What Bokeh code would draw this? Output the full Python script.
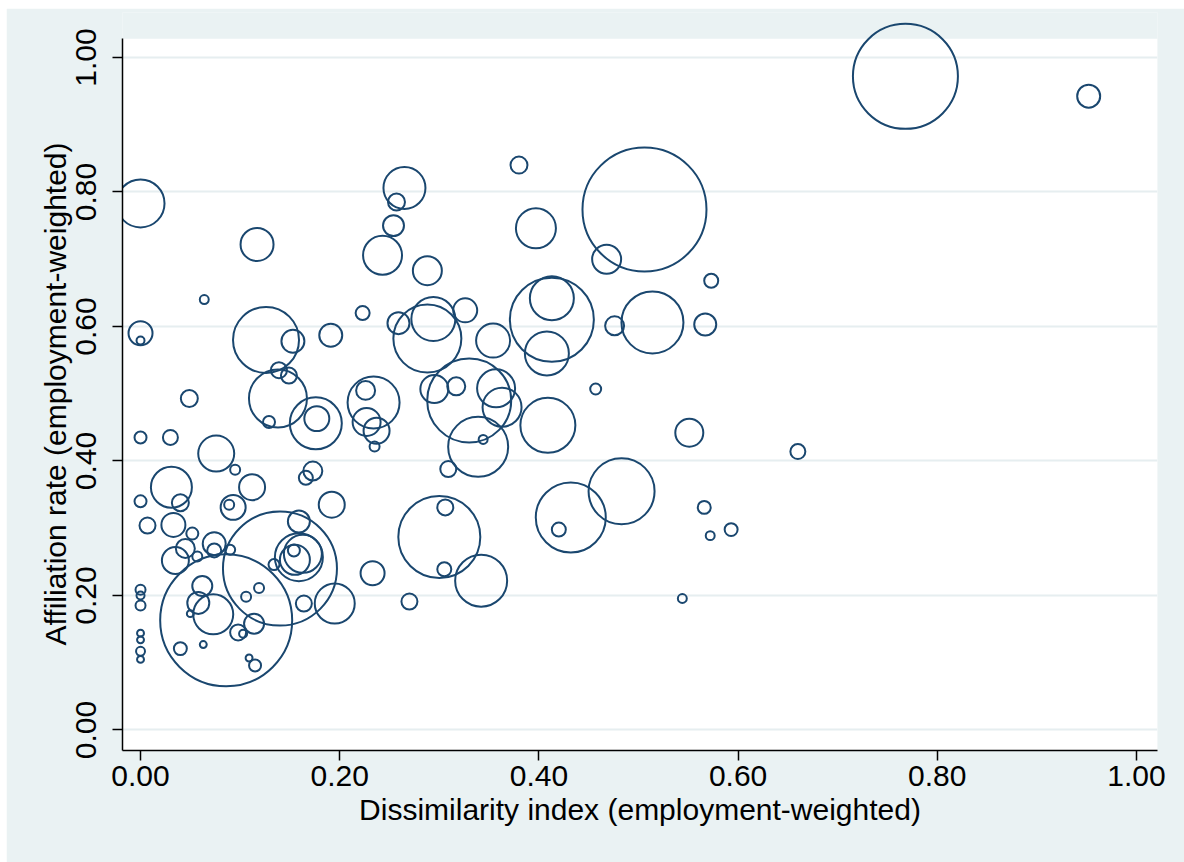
import math
from bokeh.plotting import figure
from bokeh.models import (Range1d, FixedTicker, NumeralTickFormatter, BoxAnnotation,
                          ColumnDataSource, Title)
from bokeh.embed import file_html
from bokeh.resources import INLINE

# Dissimilarity index (employment-weighted)
dissim = [0.000, 0.117, 0.064, 0.000, 0.000, 0.126, 0.153, 0.191, 0.223, 0.259,
          0.139, 0.149, 0.138, 0.129, 0.049, 0.176, 0.177, 0.234, 0.226, 0.227,
          0.237, 0.000, 0.030, 0.076, 0.095, 0.031, 0.040, 0.000, 0.112, 0.093,
          0.089, 0.007, 0.033, 0.052, 0.074, 0.074, 0.045, 0.057, 0.035, 0.090,
          0.140, 0.159, 0.159, 0.163, 0.155, 0.154, 0.134, 0.192, 0.233, 0.195,
          0.164, 0.086, 0.073, 0.062, 0.058, 0.050, 0.106, 0.119, 0.114, 0.098,
          0.103, 0.040, 0.063, 0.109, 0.115, 0.000, 0.000, 0.000, 0.000, 0.000,
          0.000, 0.000, 0.265, 0.257, 0.254, 0.243, 0.288, 0.380, 0.397, 0.294,
          0.288, 0.326, 0.354, 0.413, 0.413, 0.408, 0.295, 0.317, 0.330, 0.357,
          0.363, 0.339, 0.344, 0.409, 0.457, 0.309, 0.300, 0.306, 0.305, 0.342,
          0.432, 0.420, 0.483, 0.270, 0.173, 0.166, 0.768, 0.952, 0.506, 0.468,
          0.573, 0.514, 0.476, 0.567, 0.551, 0.660, 0.566, 0.572, 0.593, 0.544,
          0.235]

# Affiliation rate (employment-weighted)
affil = [0.783, 0.722, 0.640, 0.590, 0.579, 0.580, 0.578, 0.587, 0.620, 0.605,
         0.535, 0.527, 0.493, 0.458, 0.493, 0.456, 0.463, 0.487, 0.505, 0.458,
         0.445, 0.435, 0.435, 0.411, 0.387, 0.361, 0.338, 0.340, 0.361, 0.331,
         0.335, 0.304, 0.305, 0.292, 0.277, 0.267, 0.270, 0.258, 0.252, 0.268,
         0.240, 0.310, 0.257, 0.262, 0.253, 0.267, 0.246, 0.335, 0.233, 0.188,
         0.188, 0.163, 0.172, 0.214, 0.189, 0.173, 0.198, 0.211, 0.158, 0.145,
         0.143, 0.121, 0.127, 0.107, 0.096, 0.2085, 0.200, 0.185, 0.144, 0.134,
         0.117, 0.105, 0.806, 0.785, 0.750, 0.706, 0.683, 0.840, 0.746, 0.611,
         0.582, 0.624, 0.579, 0.610, 0.642, 0.560, 0.507, 0.511, 0.490, 0.508,
         0.480, 0.421, 0.432, 0.453, 0.507, 0.388, 0.287, 0.331, 0.239, 0.222,
         0.316, 0.298, 0.355, 0.191, 0.385, 0.375, 0.972, 0.9425, 0.774, 0.700,
         0.668, 0.606, 0.601, 0.603, 0.442, 0.414, 0.331, 0.289, 0.298, 0.1955,
         0.4215]

# Employment weight of each group (bubble area is proportional to it)
weight = [576, 272, 20, 144, 16, 1089, 132, 132, 49, 121,
          64, 64, 841, 36, 72, 676, 156, 676, 90, 196,
          169, 36, 56, 324, 25, 420, 72, 36, 169, 156,
          25, 64, 144, 36, 132, 49, 90, 25, 182, 25,
          3249, 121, 576, 361, 225, 36, 30, 169, 144, 400,
          64, 4356, 400, 100, 121, 12, 25, 25, 100, 64,
          16, 42, 12, 12, 36, 25, 16, 25, 12, 12,
          20, 12, 441, 72, 110, 380, 210, 72, 400, 484,
          1156, 144, 289, 1764, 484, 484, 196, 81, 1764, 361,
          380, 900, 20, 756, 30, 64, 1681, 64, 49, 676,
          1225, 49, 1089, 64, 90, 49, 2756, 132, 3844, 210,
          49, 961, 90, 121, 196, 56, 42, 20, 42, 20,
          25]

X_TICKS = [0.0, 0.2, 0.4, 0.6, 0.8, 1.0]
Y_TICKS = [0.0, 0.2, 0.4, 0.6, 0.8, 1.0]
X_TITLE = "Dissimilarity index (employment-weighted)"
Y_TITLE = "Affiliation rate (employment-weighted)"

NAVY = "#1A476F"
BG = "#EAF2F3"
FONT = "Liberation Sans"
FS = "30px"

# plot-region limits (white panel) and extended frame for unclipped bubbles
X0, X1 = -0.0181, 1.0211
Y0, Y1 = -0.0305, 1.028
Y_FRAME_TOP = 1.0669

sizes = [2 * math.sqrt(w) for w in weight]
src = ColumnDataSource(dict(x=dissim, y=affil, s=sizes))

p = figure(width=1178, height=854, output_backend="svg", toolbar_location=None,
           x_range=Range1d(X0, X1), y_range=Range1d(Y0, Y_FRAME_TOP),
           min_border_left=116, min_border_right=27, min_border_top=4,
           min_border_bottom=112)
p.margin = (8, 0, 0, 6)
p.background_fill_color = BG
p.border_fill_color = BG
p.outline_line_color = None

panel = BoxAnnotation(left=X0, right=X1, bottom=Y0, top=Y1, fill_color="white",
                      fill_alpha=1.0, line_color=None, level="image")
p.add_layout(panel)

p.scatter("x", "y", size="s", source=src, marker="circle", fill_color=None,
          line_color=NAVY, line_width=2)

p.xgrid.visible = False
p.ygrid.ticker = FixedTicker(ticks=Y_TICKS)
p.ygrid.grid_line_color = "#E6EEF0"
p.ygrid.grid_line_width = 2

for ax in (p.xaxis[0], p.yaxis[0]):
    ax.axis_line_color = "black"
    ax.axis_line_width = 1.5
    ax.major_tick_line_color = "black"
    ax.major_tick_line_width = 1.5
    ax.major_tick_out = 10
    ax.major_tick_in = 0
    ax.minor_tick_line_color = None
    ax.formatter = NumeralTickFormatter(format="0.00")
    ax.major_label_text_font = FONT
    ax.major_label_text_font_size = FS
    ax.major_label_text_color = "black"
    ax.axis_label_text_font = FONT
    ax.axis_label_text_font_size = FS
    ax.axis_label_text_font_style = "normal"
    ax.axis_label_text_color = "black"

p.xaxis[0].ticker = FixedTicker(ticks=X_TICKS)
p.yaxis[0].ticker = FixedTicker(ticks=Y_TICKS)
p.xaxis[0].axis_label = X_TITLE
p.yaxis[0].bounds = (Y0, Y1)
p.yaxis[0].major_label_orientation = "vertical"
p.xaxis[0].major_label_standoff = 5
p.xaxis[0].axis_label_standoff = 4
p.yaxis[0].major_label_standoff = 16

# y-axis title, placed along the white plot region (not the extended frame)
ytitle = Title(text=Y_TITLE, align="left", offset=105, standoff=4,
               text_font=FONT, text_font_size=FS, text_font_style="normal",
               text_color="black")
p.add_layout(ytitle, "left")

open("out.html", "w").write(file_html(p, INLINE))
